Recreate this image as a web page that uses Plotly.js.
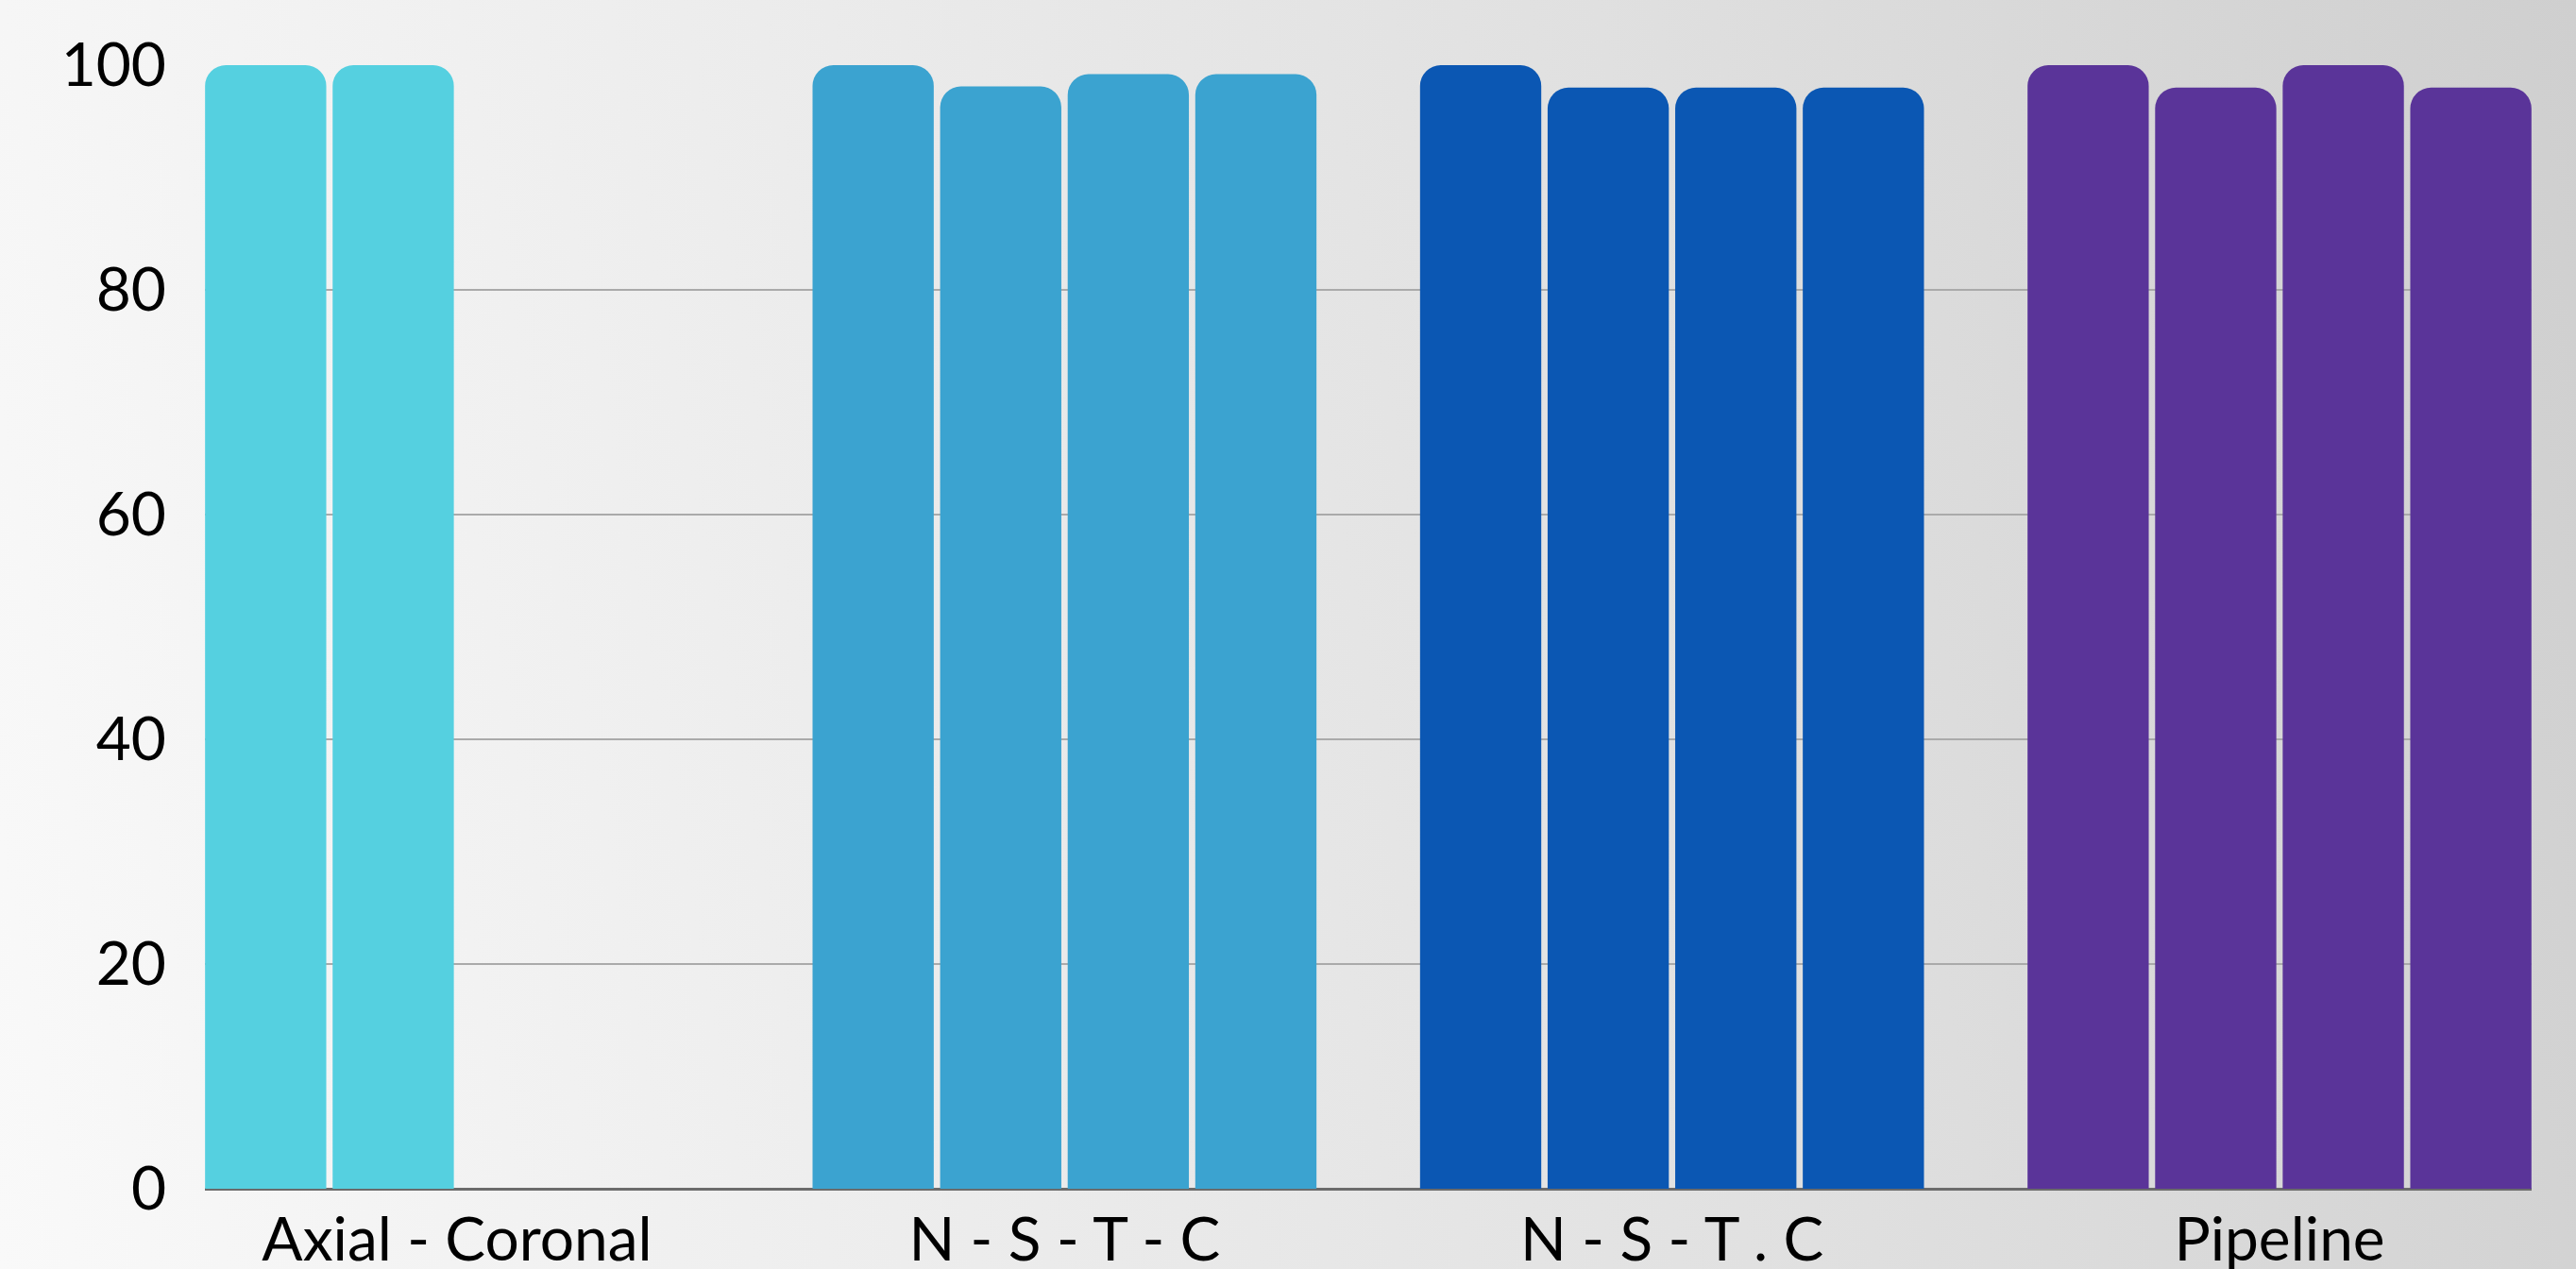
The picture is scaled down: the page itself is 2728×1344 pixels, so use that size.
<!DOCTYPE html>
<html>
<head>
<meta charset="utf-8">
<script src="https://cdn.plot.ly/plotly-3.0.1.min.js"></script>
<style>
  html, body { margin: 0; padding: 0; }
  body {
    width: 2728px; height: 1344px; overflow: hidden;
    background: linear-gradient(80deg, #f9f9f9 0%, #ececec 35%, #e0e0e0 65%, #cfcfcf 100%);
  }
  #chart { width: 2728px; height: 1344px; }
</style>
</head>
<body>
<div id="chart"></div>
<script>
// Data
const categories = ['Axial - Coronal', 'N - S - T - C', 'N - S - T . C', 'Pipeline'];
const series1 = [100, 100, 100, 100];
const series2 = [100, 98.1, 98, 98];
const series3 = [null, 99.2, 98, 100];
const series4 = [null, 99.2, 98, 98];
const categoryColors = ['#55D0E0', '#3BA3D0', '#0B57B3', '#5A3499'];
const yTickValues = [0, 20, 40, 60, 80, 100];

const allSeries = [series1, series2, series3, series4];
const traces = allSeries.map((vals, i) => ({
  type: 'bar',
  x: categories,
  y: vals,
  name: 'Series ' + (i + 1),
  marker: { color: categoryColors, cornerradius: 22, line: { width: 0 } },
  hoverinfo: 'skip'
}));

const layout = {
  width: 2728,
  height: 1344,
  paper_bgcolor: 'rgba(0,0,0,0)',
  plot_bgcolor: 'rgba(0,0,0,0)',
  margin: { l: 217, r: 47, t: 69, b: 85, pad: 0 },
  barmode: 'group',
  bargap: 0.16,
  bargroupgap: 0.05,
  showlegend: false,
  font: { family: 'Lato, "Noto Sans", sans-serif', color: '#000000', size: 64 },
  xaxis: {
    type: 'category',
    range: [-0.415, 3.415],
    showgrid: false,
    showline: false,
    zeroline: false,
    ticks: '',
    ticklabelstandoff: 11,
    tickfont: { size: 64, color: '#000000' },
    fixedrange: true
  },
  yaxis: {
    range: [0, 100],
    tickvals: yTickValues,
    ticktext: yTickValues.map(String),
    showgrid: true,
    gridcolor: '#aaaaaa',
    gridwidth: 2,
    zeroline: true,
    zerolinecolor: '#6b6b6b',
    zerolinewidth: 3,
    showline: false,
    ticks: '',
    ticklabelstandoff: 40,
    tickfont: { size: 64, color: '#000000' },
    fixedrange: true
  }
};

Plotly.newPlot('chart', traces, layout, { displayModeBar: false, staticPlot: true });
</script>
</body>
</html>
